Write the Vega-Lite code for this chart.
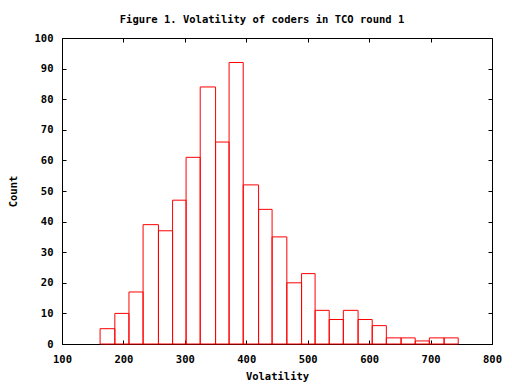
{
  "$schema": "https://vega.github.io/schema/vega-lite/v6.json",
  "width": 430,
  "height": 306,
  "autosize": "none",
  "padding": {"left": 62, "top": 38, "right": 20, "bottom": 40},
  "background": "white",
  "title": {
    "text": "Figure 1. Volatility of coders in TCO round 1",
    "font": "DejaVu Sans Mono",
    "fontSize": 10.5,
    "fontWeight": "bold",
    "color": "black",
    "anchor": "middle",
    "dx": -15,
    "offset": 8
  },
  "config": {
    "view": {"stroke": "black", "strokeWidth": 1},
    "axis": {
      "grid": false,
      "domainColor": "black",
      "tickColor": "black",
      "tickSize": -4,
      "labelFont": "DejaVu Sans Mono",
      "labelFontSize": 10.5,
      "labelFontWeight": "bold",
      "labelColor": "black",
      "titleFont": "DejaVu Sans Mono",
      "titleFontSize": 10.5,
      "titleFontWeight": "bold",
      "titleColor": "black"
    }
  },
  "data": {
    "values": [
      {"x0": 162, "x1": 186, "count": 5},
      {"x0": 186, "x1": 209, "count": 10},
      {"x0": 209, "x1": 232, "count": 17},
      {"x0": 232, "x1": 257, "count": 39},
      {"x0": 257, "x1": 280, "count": 37},
      {"x0": 280, "x1": 302, "count": 47},
      {"x0": 302, "x1": 325, "count": 61},
      {"x0": 325, "x1": 350, "count": 84},
      {"x0": 350, "x1": 372, "count": 66},
      {"x0": 372, "x1": 395, "count": 92},
      {"x0": 395, "x1": 420, "count": 52},
      {"x0": 420, "x1": 442, "count": 44},
      {"x0": 442, "x1": 466, "count": 35},
      {"x0": 466, "x1": 490, "count": 20},
      {"x0": 490, "x1": 512, "count": 23},
      {"x0": 512, "x1": 535, "count": 11},
      {"x0": 535, "x1": 558, "count": 8},
      {"x0": 558, "x1": 582, "count": 11},
      {"x0": 582, "x1": 605, "count": 8},
      {"x0": 605, "x1": 628, "count": 6},
      {"x0": 628, "x1": 652, "count": 2},
      {"x0": 652, "x1": 675, "count": 2},
      {"x0": 675, "x1": 698, "count": 1},
      {"x0": 698, "x1": 722, "count": 2},
      {"x0": 722, "x1": 745, "count": 2}
    ]
  },
  "resolve": {"axis": {"x": "independent", "y": "independent"}},
  "layer": [
    {
      "mark": {"type": "rect", "fill": "white", "fillOpacity": 0, "stroke": "#ff0000", "strokeWidth": 1},
      "encoding": {
        "x": {
          "field": "x0", "type": "quantitative",
          "scale": {"domain": [100, 800], "nice": false, "zero": false},
          "axis": {"orient": "bottom", "values": [100, 200, 300, 400, 500, 600, 700, 800], "title": "Volatility", "labelPadding": 14, "titlePadding": 7, "labelFlush": false}
        },
        "x2": {"field": "x1"},
        "y": {
          "field": "count", "type": "quantitative",
          "scale": {"domain": [0, 100], "nice": false},
          "axis": {"orient": "left", "values": [0, 10, 20, 30, 40, 50, 60, 70, 80, 90, 100], "title": "Count", "labelPadding": 13, "titlePadding": 16, "labelFlush": false}
        },
        "y2": {"datum": 0}
      }
    },
    {
      "mark": {"type": "rect", "fillOpacity": 0, "strokeOpacity": 0},
      "encoding": {
        "x": {
          "field": "x0", "type": "quantitative",
          "axis": {"orient": "top", "values": [100, 200, 300, 400, 500, 600, 700, 800], "labels": false, "title": null, "domain": false}
        },
        "x2": {"field": "x1"},
        "y": {
          "field": "count", "type": "quantitative",
          "axis": {"orient": "right", "values": [0, 10, 20, 30, 40, 50, 60, 70, 80, 90, 100], "labels": false, "title": null, "domain": false}
        },
        "y2": {"datum": 0}
      }
    }
  ]
}
